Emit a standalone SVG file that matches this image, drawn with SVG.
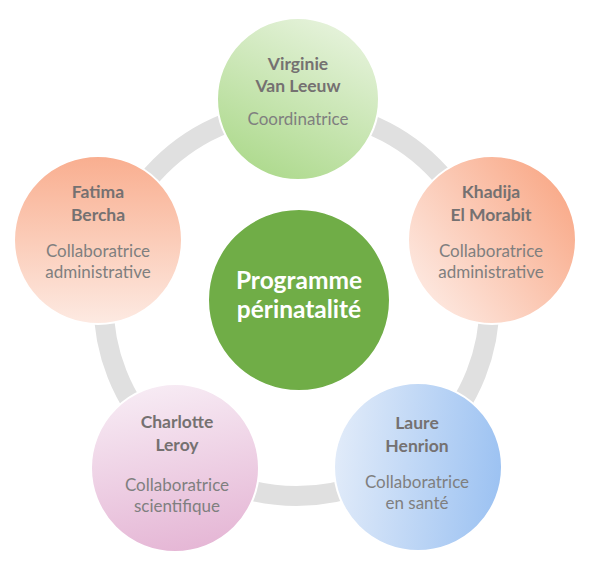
<svg xmlns="http://www.w3.org/2000/svg" width="591" height="563" viewBox="0 0 591 563">
<style>
.node circle{stroke:#ffffff;stroke-width:2}
.name{font-family:Lato,"Liberation Sans",sans-serif;font-weight:bold;font-size:17.5px;fill:#757171;text-anchor:middle}
.role{font-family:Lato,"Liberation Sans",sans-serif;font-size:17px;fill:#7f7f7f;text-anchor:middle}
.center{font-family:Lato,"Liberation Sans",sans-serif;font-weight:bold;font-size:24.5px;fill:#ffffff;text-anchor:middle}
</style>
<defs>
<linearGradient id="gGreen" x1="0.75" y1="0" x2="0.25" y2="1"><stop offset="0" stop-color="#e7f3dd"/><stop offset="1" stop-color="#acd98b"/></linearGradient>
<linearGradient id="gFatima" x1="0.5" y1="0" x2="0.5" y2="1"><stop offset="0" stop-color="#f9ae8f"/><stop offset="1" stop-color="#fdeae2"/></linearGradient>
<linearGradient id="gKhadija" x1="0.9" y1="0.2" x2="0.1" y2="0.8"><stop offset="0" stop-color="#f9ac8c"/><stop offset="1" stop-color="#fde6dd"/></linearGradient>
<linearGradient id="gCharlotte" x1="0.4" y1="0" x2="0.6" y2="1"><stop offset="0" stop-color="#f7ebf4"/><stop offset="1" stop-color="#e5b6d5"/></linearGradient>
<linearGradient id="gLaure" x1="0" y1="0.45" x2="1" y2="0.55"><stop offset="0" stop-color="#e1ebf9"/><stop offset="1" stop-color="#9cc2f2"/></linearGradient>
</defs>
<rect width="591" height="563" fill="#ffffff"/>
<g id="connectors">
<circle cx="296.5" cy="303" r="193" fill="none" stroke="#e0e0e0" stroke-width="20"/>
</g>
<g id="node-center" class="node">
<circle cx="299" cy="300" r="91" fill="#70ad47" stroke="none"/>
<text class="center" x="299" y="289">Programme</text>
<text class="center" x="299" y="318">périnatalité</text>
</g>
<g id="node-virginie" class="node">
<circle cx="298" cy="99" r="81" fill="url(#gGreen)"/>
<text class="name" x="298" y="70">Virginie</text>
<text class="name" x="298" y="92">Van Leeuw</text>
<text class="role" x="298" y="125">Coordinatrice</text>
</g>
<g id="node-fatima" class="node">
<circle cx="98" cy="240" r="84" fill="url(#gFatima)"/>
<text class="name" x="98" y="198">Fatima</text>
<text class="name" x="98" y="221">Bercha</text>
<text class="role" x="98" y="257">Collaboratrice</text>
<text class="role" x="98" y="278">administrative</text>
</g>
<g id="node-khadija" class="node">
<circle cx="492" cy="240" r="84" fill="url(#gKhadija)"/>
<text class="name" x="491" y="198">Khadija</text>
<text class="name" x="491" y="221">El Morabit</text>
<text class="role" x="491" y="257">Collaboratrice</text>
<text class="role" x="491" y="278">administrative</text>
</g>
<g id="node-charlotte" class="node">
<circle cx="175" cy="468" r="84" fill="url(#gCharlotte)"/>
<text class="name" x="177" y="428">Charlotte</text>
<text class="name" x="177" y="451">Leroy</text>
<text class="role" x="177" y="491">Collaboratrice</text>
<text class="role" x="177" y="512">scientifique</text>
</g>
<g id="node-laure" class="node">
<circle cx="418" cy="467" r="84" fill="url(#gLaure)"/>
<text class="name" x="417" y="429">Laure</text>
<text class="name" x="417" y="452">Henrion</text>
<text class="role" x="417" y="488">Collaboratrice</text>
<text class="role" x="417" y="509">en santé</text>
</g>
</svg>
